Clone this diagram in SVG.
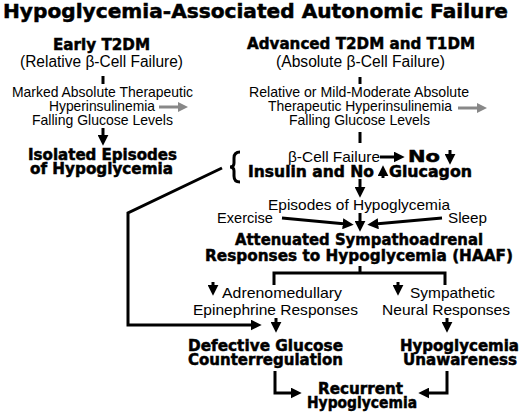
<svg xmlns="http://www.w3.org/2000/svg" width="520" height="413" viewBox="0 0 520 413">
<style>
.t{font-family:"Liberation Sans",Arial,sans-serif;font-size:15px;fill:#000}
.h{font-family:"DejaVu Sans","Liberation Sans",sans-serif;font-weight:bold;font-size:15px;fill:#000;stroke:#000;stroke-width:0.5}
.big{font-size:16px}
.ln{fill:none;stroke:#000;stroke-width:3}
.ar{fill:none;stroke:#000;stroke-width:3;marker-end:url(#ah)}
.gr{fill:none;stroke:#888;stroke-width:3;marker-end:url(#gh)}
</style>
<defs>
<marker id="ah" markerUnits="userSpaceOnUse" viewBox="0 0 10 10" markerWidth="11" markerHeight="11" refX="3" refY="5" orient="auto"><path d="M0,0 L10,5 L0,10 z" fill="#000"/></marker>
<marker id="gh" markerUnits="userSpaceOnUse" viewBox="0 0 10 10" markerWidth="10" markerHeight="10" refX="3" refY="5" orient="auto"><path d="M0,0 L10,5 L0,10 z" fill="#888"/></marker>
</defs>
<rect width="520" height="413" fill="#fff"/>
<g id="title"><text class="h" x="3" y="18" style="font-size:20px" textLength="505" lengthAdjust="spacingAndGlyphs">Hypoglycemia-Associated Autonomic Failure</text></g>
<g id="early">
<text class="h big" x="53" y="50" textLength="97" lengthAdjust="spacingAndGlyphs">Early T2DM</text>
<text class="t big" x="20" y="67" textLength="163" lengthAdjust="spacingAndGlyphs">(Relative β-Cell Failure)</text>
</g>
<g id="early-hyper">
<text class="t" x="12" y="97" textLength="181" lengthAdjust="spacingAndGlyphs">Marked Absolute Therapeutic</text>
<text class="t" x="49" y="111" textLength="106" lengthAdjust="spacingAndGlyphs">Hyperinsulinemia</text>
<text class="t" x="32" y="125" textLength="141" lengthAdjust="spacingAndGlyphs">Falling Glucose Levels</text>
</g>
<g id="isolated">
<text class="h" x="28" y="160" textLength="149" lengthAdjust="spacingAndGlyphs">Isolated Episodes</text>
<text class="h" x="30" y="174" textLength="143" lengthAdjust="spacingAndGlyphs">of Hypoglycemia</text>
</g>
<g id="advanced">
<text class="h big" x="247" y="49" textLength="228" lengthAdjust="spacingAndGlyphs">Advanced T2DM and T1DM</text>
<text class="t big" x="276" y="67" textLength="169" lengthAdjust="spacingAndGlyphs">(Absolute β-Cell Failure)</text>
</g>
<g id="adv-hyper">
<text class="t" x="249" y="97" textLength="220" lengthAdjust="spacingAndGlyphs">Relative or Mild-Moderate Absolute</text>
<text class="t" x="268" y="111" textLength="184" lengthAdjust="spacingAndGlyphs">Therapeutic Hyperinsulinemia</text>
<text class="t" x="289" y="125" textLength="141" lengthAdjust="spacingAndGlyphs">Falling Glucose Levels</text>
</g>
<g id="beta-failure">
<text class="t" x="288" y="162" textLength="92" lengthAdjust="spacingAndGlyphs">β-Cell Failure</text>
<text class="h" x="408" y="162" textLength="32" lengthAdjust="spacingAndGlyphs">No</text>
<text class="h" x="248" y="177" textLength="126" lengthAdjust="spacingAndGlyphs">Insulin and No</text>
<text class="h" x="389" y="177" textLength="83" lengthAdjust="spacingAndGlyphs">Glucagon</text>
</g>
<g id="episodes"><text class="t" x="268" y="210" textLength="182" lengthAdjust="spacingAndGlyphs">Episodes of Hypoglycemia</text></g>
<g id="exercise"><text class="t" x="217" y="223" textLength="56" lengthAdjust="spacingAndGlyphs">Exercise</text></g>
<g id="sleep"><text class="t" x="448" y="223" textLength="39" lengthAdjust="spacingAndGlyphs">Sleep</text></g>
<g id="haaf">
<text class="h big" x="235" y="245" textLength="248" lengthAdjust="spacingAndGlyphs">Attenuated Sympathoadrenal</text>
<text class="h big" x="205" y="261" textLength="308" lengthAdjust="spacingAndGlyphs">Responses to Hypoglycemia (HAAF)</text>
</g>
<g id="adreno">
<text class="t" x="222" y="298" textLength="120" lengthAdjust="spacingAndGlyphs">Adrenomedullary</text>
<text class="t" x="193" y="315" textLength="165" lengthAdjust="spacingAndGlyphs">Epinephrine Responses</text>
</g>
<g id="sympathetic">
<text class="t" x="410" y="298" textLength="85" lengthAdjust="spacingAndGlyphs">Sympathetic</text>
<text class="t" x="382" y="315" textLength="128" lengthAdjust="spacingAndGlyphs">Neural Responses</text>
</g>
<g id="defective">
<text class="h" x="188" y="351" textLength="155" lengthAdjust="spacingAndGlyphs">Defective Glucose</text>
<text class="h" x="188" y="365" textLength="155" lengthAdjust="spacingAndGlyphs">Counterregulation</text>
</g>
<g id="unawareness">
<text class="h" x="400" y="351" textLength="119" lengthAdjust="spacingAndGlyphs">Hypoglycemia</text>
<text class="h" x="403" y="365" textLength="114" lengthAdjust="spacingAndGlyphs">Unawareness</text>
</g>
<g id="recurrent">
<text class="h" x="318" y="394" textLength="85" lengthAdjust="spacingAndGlyphs">Recurrent</text>
<text class="h" x="307" y="408" textLength="110" lengthAdjust="spacingAndGlyphs">Hypoglycemia</text>
</g>
<g id="connectors">
<path class="ln" d="M103,76 V84"/>
<path class="ar" d="M103,128 V138"/>
<path class="gr" d="M159,107 H181"/>
<path class="ln" d="M360,77 V84"/>
<path class="gr" d="M458,108 H480"/>
<path class="ln" d="M360,132 V143"/>
<path class="ln" d="M240,152 Q234,152 234,158 L234,163 Q234,167 230,167 Q234,167 234,171 L234,176 Q234,182 240,182"/>
<path class="ar" d="M380,157 H397"/>
<path class="ar" d="M450,150 V157"/>
<path class="ar" d="M383,178 V173"/>
<path class="ar" d="M360,179 V190"/>
<path class="ar" d="M282,218 L346,224"/>
<path class="ar" d="M360,213 V224"/>
<path class="ar" d="M442,218 L375,224"/>
<path class="ar" d="M222,168 L128,213 V325 H254"/>
<path class="ln" d="M360,266 V273 M274,285 V273 H445 V285"/>
<path class="ar" d="M213,282 V288"/>
<path class="ar" d="M398,282 V288"/>
<path class="ar" d="M276,318 V325"/>
<path class="ar" d="M447,318 V325"/>
<path class="ar" d="M275,371 V393 H294"/>
<path class="ar" d="M447,371 V393 H426"/>
</g>
</svg>
